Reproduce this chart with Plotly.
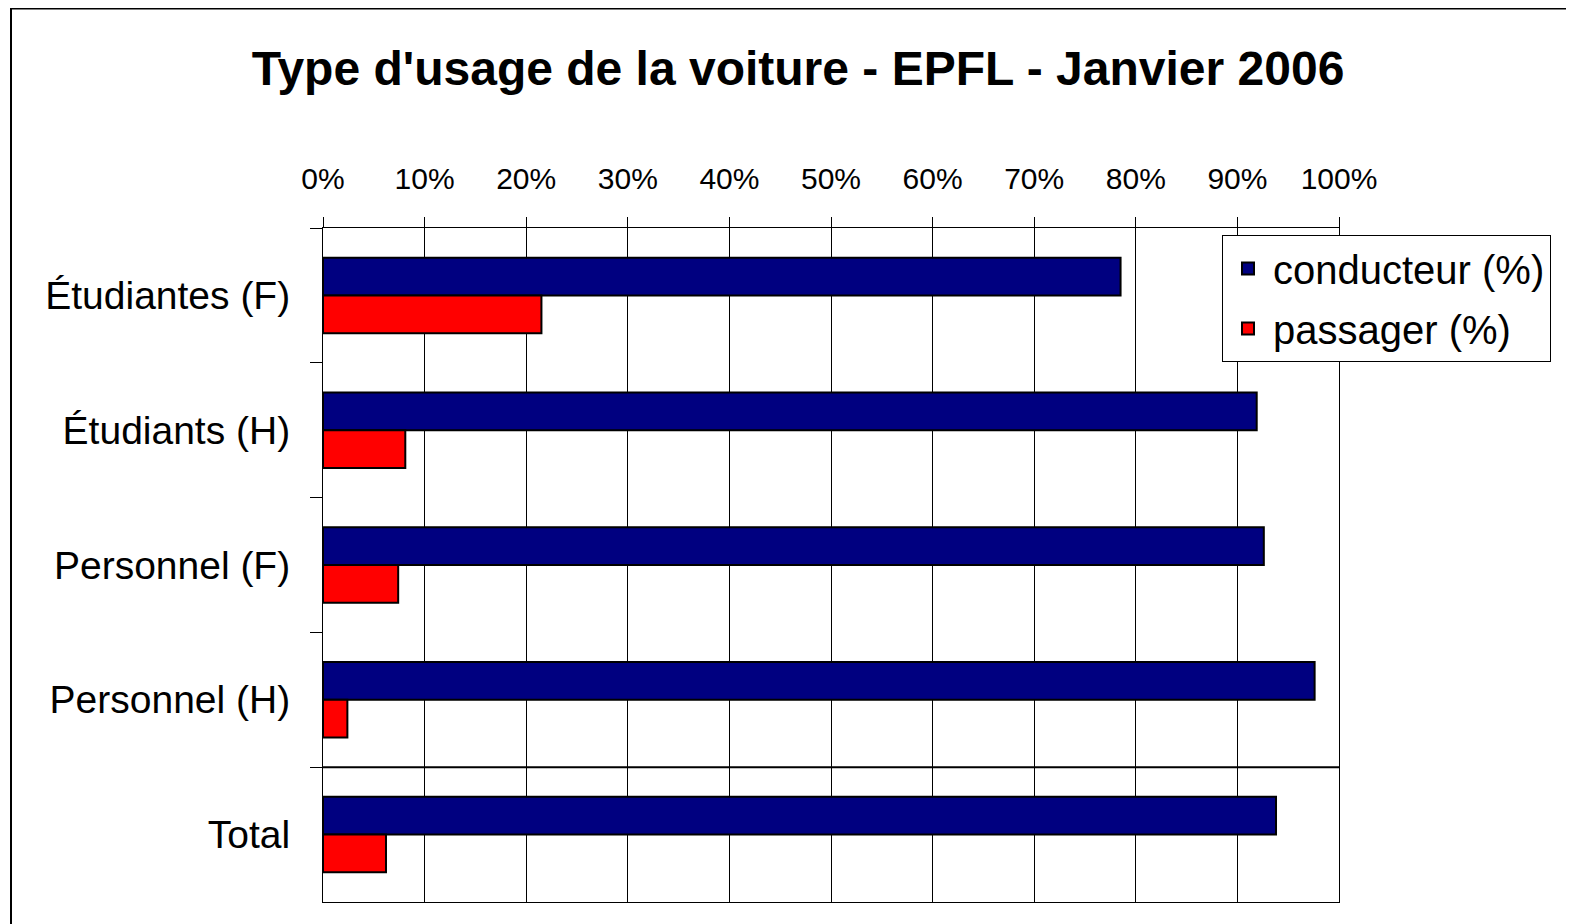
import plotly.graph_objects as go

# ---- data ----
categories = ["Étudiantes (F)", "Étudiants (H)", "Personnel (F)", "Personnel (H)", "Total"]
conducteur = [0.785, 0.919, 0.926, 0.976, 0.938]
passager = [0.215, 0.081, 0.074, 0.024, 0.062]
series_names = ["conducteur (%)", "passager (%)"]
tick_values = [0, 0.1, 0.2, 0.3, 0.4, 0.5, 0.6, 0.7, 0.8, 0.9, 1.0]
tick_labels = ["0%", "10%", "20%", "30%", "40%", "50%", "60%", "70%", "80%", "90%", "100%"]
title_text = "Type d'usage de la voiture - EPFL - Janvier 2006"

FONT = "Liberation Sans, Arial, sans-serif"

fig = go.Figure()
fig.add_trace(go.Bar(
    y=categories, x=conducteur, orientation="h", name=series_names[0],
    legendgroup="g1",
    marker=dict(color="#000080", line=dict(color="black", width=2)),
))
fig.add_trace(go.Bar(
    y=categories, x=passager, orientation="h", name=series_names[1],
    legendgroup="g2",
    marker=dict(color="#FF0000", line=dict(color="black", width=2)),
))

W, H = 1574, 924
OFF = 8  # page body margin offset
# target page-pixel positions of the plot area
PL, PR, PT, PB = 323, 1339, 228, 902
L = PL - OFF
T = PT - OFF
R = W - (PR - OFF)
B = H - (PB - OFF)
pw, ph = PR - PL, PB - PT

def px_x(p):
    return (p - PL) / pw

def px_y(p):
    return (PB - p) / ph

fig.update_layout(
    width=W, height=H,
    margin=dict(l=L, r=R, t=T, b=B),
    paper_bgcolor="white", plot_bgcolor="white",
    font=dict(family=FONT, color="black"),
    barmode="group", bargap=0.44, bargroupgap=0,
    title=dict(text=title_text, x=(798 - OFF) / W, xanchor="center",
               y=1 - (68 - OFF) / H, yanchor="middle",
               font=dict(family=FONT, size=48, color="black", weight="bold")),
    showlegend=True,
    legend=dict(
        x=px_x(1222), y=px_y(235), xanchor="left", yanchor="top",
        bgcolor="white", bordercolor="black", borderwidth=1,
        font=dict(family=FONT, size=40, color="black"),
        traceorder="grouped", tracegroupgap=5, itemwidth=40,
    ),
    xaxis=dict(
        side="top", range=[0, 1], tickvals=tick_values, ticktext=tick_labels,
        showgrid=True, gridcolor="black", gridwidth=1,
        showline=True, linecolor="black", linewidth=1, mirror=True,
        ticks="outside", ticklen=10, tickcolor="black", tickwidth=1,
        tickfont=dict(family=FONT, size=30, color="black"),
        ticklabelstandoff=16, zeroline=False, fixedrange=True,
    ),
    yaxis=dict(
        autorange="reversed", type="category",
        showgrid=False, showline=True, linecolor="black", linewidth=1, mirror=True,
        ticks="outside", tickson="boundaries", ticklen=12, tickcolor="black",
        tickfont=dict(family=FONT, size=39, color="black"),
        ticklabelstandoff=24, fixedrange=True,
    ),
    shapes=[
        # separator between Personnel (H) and Total
        dict(type="line", xref="paper", yref="y", x0=0, x1=1, y0=3.5, y1=3.5,
             line=dict(color="black", width=2)),
        # outer chart frame
        dict(type="rect", xref="paper", yref="paper",
             x0=px_x(11), x1=px_x(1600), y0=px_y(960), y1=px_y(OFF + 0.5),
             line=dict(color="black", width=2), layer="below"),
    ],
)

fig.write_html("out.html")
